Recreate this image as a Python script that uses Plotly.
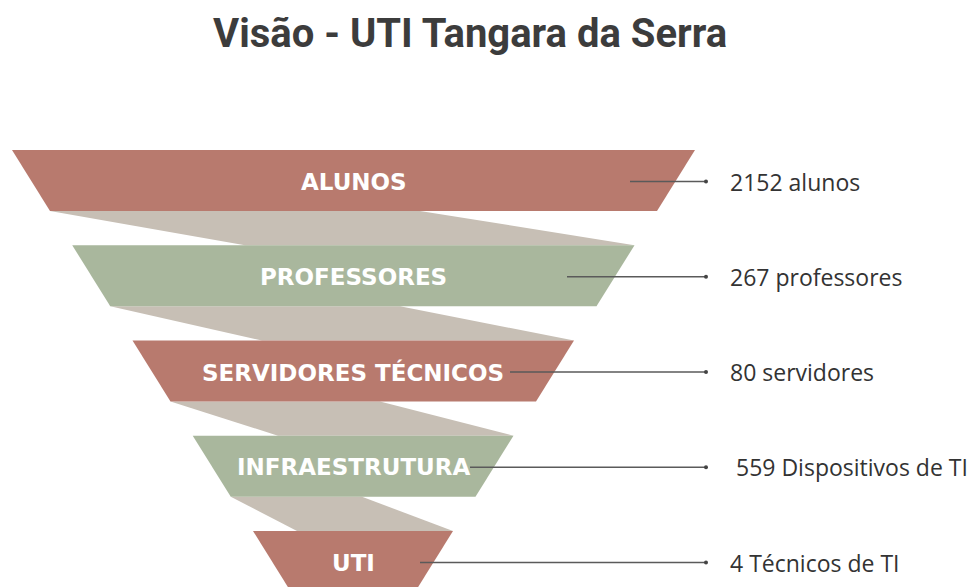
import plotly.graph_objects as go

# ---- data ----
stages = ["ALUNOS", "PROFESSORES", "SERVIDORES TÉCNICOS", "INFRAESTRUTURA", "UTI"]
counts = [2152, 267, 80, 559, 4]
units = ["alunos", "professores", "servidores", "Dispositivos de TI", "Técnicos de TI"]
title = "Visão - UTI Tangara da Serra"

# ---- geometry / style (page-pixel-like layout units) ----
W, H = 976, 587
PAGE_OFF = 8  # default body margin of the html page
band_top0, band_step, band_h = 150, 95.25, 61
left0, left_step = 12, 60.25
right0, right_step = 695, 60.5
inset = 38
conn_tr = [420, 400, 380, 362]
conn_bl = [245, 262, 278, 297]
line_start = [630, 567, 510, 470, 420]
dot_x = 706
label_x = 728
band_colors = ["#B87A6E", "#A9B79D", "#B87A6E", "#A9B79D", "#B87A6E"]
conn_color = "#C7BFB5"

fig = go.Figure()

def geom(i):
    yt = band_top0 + band_step * i
    yb = yt + band_h
    xl = left0 + left_step * i
    xr = right0 - right_step * i
    return yt, yb, xl, xr

# connectors first (behind bands)
for i in range(len(stages) - 1):
    yt, yb, xl, xr = geom(i)
    nyt, nyb, nxl, nxr = geom(i + 1)
    xs = [xl + inset, conn_tr[i], nxr, conn_bl[i], xl + inset]
    ys = [yb, yb, nyt, nyt, yb]
    fig.add_trace(go.Scatter(x=xs, y=ys, fill="toself", fillcolor=conn_color,
                             line=dict(width=0), mode="lines", hoverinfo="skip",
                             showlegend=False))

for i, name in enumerate(stages):
    yt, yb, xl, xr = geom(i)
    xs = [xl, xr, xr - inset, xl + inset, xl]
    ys = [yt, yt, yb, yb, yt]
    fig.add_trace(go.Scatter(x=xs, y=ys, fill="toself", fillcolor=band_colors[i],
                             line=dict(width=0), mode="lines", hoverinfo="skip",
                             showlegend=False))

# leader lines with dots
for i, name in enumerate(stages):
    yt, yb, xl, xr = geom(i)
    yc = yt + band_h / 2 + 1
    fig.add_trace(go.Scatter(x=[line_start[i], dot_x], y=[yc, yc], mode="lines",
                             line=dict(color="#5a5a5a", width=1.3),
                             hoverinfo="skip", showlegend=False))
    fig.add_trace(go.Scatter(x=[dot_x], y=[yc], mode="markers",
                             marker=dict(color="#444", size=4),
                             hoverinfo="skip", showlegend=False))

# band labels and value labels
for i, name in enumerate(stages):
    yt, yb, xl, xr = geom(i)
    yc = yt + band_h / 2
    fig.add_annotation(x=(xl + xr) / 2, y=yc + 1, text=f"<b>{name}</b>", showarrow=False,
                       font=dict(family="DejaVu Sans", size=23, color="white"),
                       xanchor="center", yanchor="middle")
    lbl = f"{counts[i]} {units[i]}"
    fig.add_annotation(x=label_x + (6 if units[i] == "Dispositivos de TI" else 0), y=yc + 1,
                       text=lbl, showarrow=False,
                       font=dict(family="Open Sans", size=23, color="#333333"),
                       xanchor="left", yanchor="middle")

fig.add_annotation(x=470, y=33, text=f"<b>{title}</b>", showarrow=False,
                   font=dict(family="Roboto", size=40, color="#3c3c3c"),
                   xanchor="center", yanchor="middle")

fig.update_layout(
    width=W, height=H, margin=dict(l=0, r=0, t=0, b=0),
    paper_bgcolor="white", plot_bgcolor="white",
    xaxis=dict(range=[PAGE_OFF, W + PAGE_OFF], visible=False, fixedrange=True),
    yaxis=dict(range=[H + PAGE_OFF, PAGE_OFF], visible=False, fixedrange=True),
)

fig.write_html("out.html")
